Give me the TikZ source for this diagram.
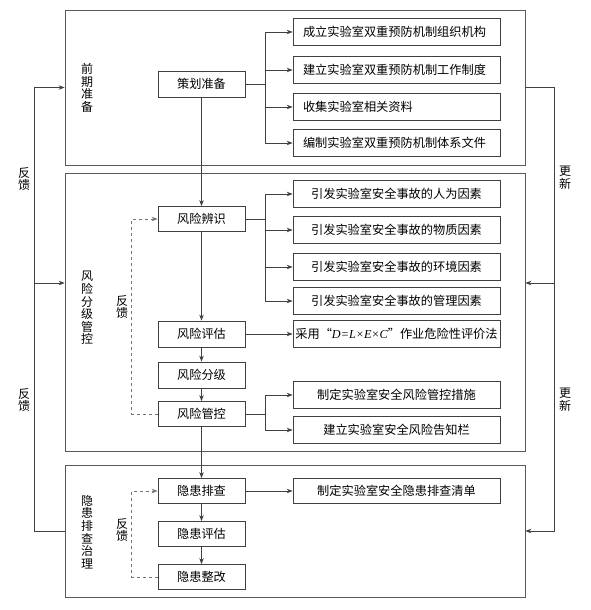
\documentclass[tikz,border=0pt]{standalone}
\usepackage{fontspec}
\setmainfont{Liberation Serif}
\newfontfamily\cjk{Noto Sans CJK SC}
\usetikzlibrary{arrows.meta,calc}
\begin{document}
\begin{tikzpicture}[x=1pt,y=-1pt,
  every node/.style={font=\cjk\fontsize{12.2}{13}\selectfont},
  ln/.style={draw=black!75, line width=0.75pt},
  arr/.style={ln, -{Stealth[length=6pt,width=4.5pt]}},
  frame/.style={ln, draw=black!65, rectangle, inner sep=0pt},
  box/.style={ln, rectangle, minimum width=87pt, minimum height=25pt, inner sep=0pt},
  rbox/.style={ln, rectangle, minimum width=207pt, minimum height=27pt, inner sep=0pt},
  rboxl/.style={rbox, text width=187pt, align=left},
  vlab/.style={align=center, inner sep=0pt, font=\cjk\fontsize{12}{12.6}\selectfont}]
\useasboundingbox (0,0) rectangle (591,610);
% frames
\node[frame, minimum width=460pt, minimum height=155pt] (f1) at (295,87.5) {};
\node[frame, minimum width=460pt, minimum height=278pt] (f2) at (295,312) {};
\node[frame, minimum width=460pt, minimum height=132pt] (f3) at (295,531) {};
% section labels
\node[vlab] (s1) at (87,88) {前\\期\\准\\备};
\node[vlab] (s2) at (87,308) {风\\险\\分\\级\\管\\控};
\node[vlab] (s3) at (87,532) {隐\\患\\排\\查\\治\\理};
% main column
\node[box, minimum height=26pt] (cz) at (201.5,84) {策划准备};
\node[box] (fx1) at (201.5,219) {风险辨识};
\node[box, minimum height=26pt] (fx2) at (201.5,334) {风险评估};
\node[box, minimum height=26pt] (fx3) at (201.5,375) {风险分级};
\node[box] (fx4) at (201.5,414) {风险管控};
\node[box] (yh1) at (201.5,491) {隐患排查};
\node[box] (yh2) at (201.5,534) {隐患评估};
\node[box] (yh3) at (201.5,577) {隐患整改};
% right column
\node[rboxl] (r1) at (396.5,32) {成立实验室双重预防机制组织机构};
\node[rboxl] (r2) at (396.5,70) {建立实验室双重预防机制工作制度};
\node[rboxl] (r3) at (396.5,107) {收集实验室相关资料};
\node[rboxl] (r4) at (396.5,143) {编制实验室双重预防机制体系文件};
\node[rbox] (m1) at (396.5,194) {引发实验室安全事故的人为因素};
\node[rbox] (m2) at (396.5,230) {引发实验室安全事故的物质因素};
\node[rbox] (m3) at (396.5,267) {引发实验室安全事故的环境因素};
\node[rbox] (m4) at (396.5,301) {引发实验室安全事故的管理因素};
\node[rbox] (m5) at (396.5,334) {采用“{\rmfamily\itshape D=L×E×C}”作业危险性评价法};
\node[rbox] (c1) at (396.5,395) {制定实验室安全风险管控措施};
\node[rbox] (c2) at (396.5,430) {建立实验室安全风险告知栏};
\node[rbox, minimum height=25pt] (q1) at (396.5,491) {制定实验室安全隐患排查清单};
% branches
\coordinate (bx) at (265,0);
\draw[ln] (cz.east) -- (cz.east -| bx);
\draw[ln] (bx |- r1) -- (bx |- r4);
\foreach \n in {r1,r2,r3,r4} \draw[arr] (bx |- \n) -- (\n.west);
\draw[ln] (fx1.east) -- (fx1.east -| bx);
\draw[ln] (bx |- m1) -- (bx |- m4);
\foreach \n in {m1,m2,m3,m4} \draw[arr] (bx |- \n) -- (\n.west);
\draw[arr] (fx2.east) -- (m5.west);
\draw[ln] (fx4.east) -- (fx4.east -| bx);
\draw[ln] (bx |- c1) -- (bx |- c2);
\foreach \n in {c1,c2} \draw[arr] (bx |- \n) -- (\n.west);
\draw[arr] (yh1.east) -- (q1.west);
% main flow
\draw[arr] (cz.south) -- (fx1.north);
\draw[arr] (fx1.south) -- (fx2.north);
\draw[arr] (fx2.south) -- (fx3.north);
\draw[arr] (fx3.south) -- (fx4.north);
\draw[arr] (fx4.south) -- (yh1.north);
\draw[arr] (yh1.south) -- (yh2.north);
\draw[arr] (yh2.south) -- (yh3.north);
% inner feedback
\draw[arr, dashed, draw=black!55] (fx4.west) -- ++(-26,0) |- (fx1.west);
\draw[arr, dashed, draw=black!55] (yh3.west) -- ++(-26,0) |- (yh1.west);
\node[vlab] (ifb1) at (122,307) {反\\馈};
\node[vlab] (ifb2) at (122,530) {反\\馈};
% outer feedback (left)
\draw[arr] (f3.west) -| ([xshift=-30pt]f1.west) -- (f1.west);
\coordinate (lf) at (35,283);
\draw[arr] (lf) -- (lf -| f2.west);
\node[vlab] (ofb1) at (24,179) {反\\馈};
\node[vlab] (ofb2) at (24,400) {反\\馈};
% update (right)
\draw[arr] (f1.east) -| ([xshift=29pt]f3.east) -- (f3.east);
\coordinate (rf) at (554,283);
\draw[arr] (rf) -- (rf -| f2.east);
\node[vlab] (up1) at (565,178) {更\\新};
\node[vlab] (up2) at (565,400) {更\\新};
\end{tikzpicture}
\end{document}
